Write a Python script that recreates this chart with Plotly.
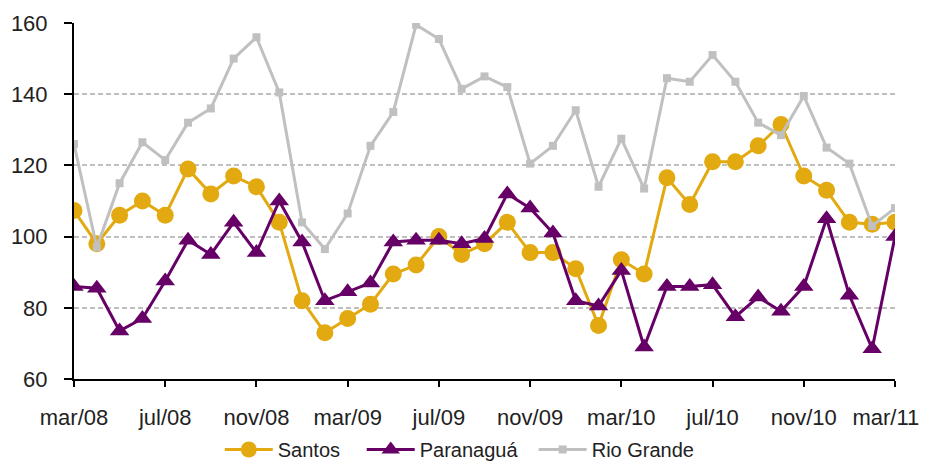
import plotly.graph_objects as go

months_pt = ["jan", "fev", "mar", "abr", "mai", "jun", "jul", "ago", "set", "out", "nov", "dez"]
meses = []
for i in range(37):
    m = (2 + i) % 12
    y = 8 + (2 + i) // 12
    meses.append(f"{months_pt[m]}/{y:02d}")

santos = [107.3, 98, 106, 110, 106, 119, 112, 117, 114, 104, 82, 73, 77, 81, 89.5,
          92, 100, 95, 98, 104, 95.5, 95.5, 91, 75, 93.5, 89.5, 116.5, 109, 121, 121,
          125.5, 131.5, 117, 113, 104, 103.5, 104]
paranagua = [86, 85.5, 73.5, 77, 87.5, 99, 95, 104, 95.5, 110, 98.5, 82, 84.5, 87, 98.5,
             99, 99, 98, 99.5, 112, 108, 101, 82, 80.5, 90.5, 69, 86, 86, 86.5, 77.5,
             83, 79, 86, 105, 83.5, 68.5, 100]
rio_grande = [126, 97, 115, 126.5, 121.5, 132, 136, 150, 156, 140.5, 104, 96.5, 106.5,
              125.5, 135, 159.5, 155.5, 141.5, 145, 142, 120.5, 125.5, 135.5, 114, 127.5,
              113.5, 144.5, 143.5, 151, 143.5, 132, 128.5, 139.5, 125, 120.5, 103, 108]

tick_vals = meses[::4]
tick_text = list(tick_vals)
tick_text[-1] = tick_text[-1] + "\u00a0\u00a0\u00a0"  # nudge last label left so it isn't clipped

# nbsp padding just widens the legend entries a bit
fig = go.Figure()
fig.add_trace(go.Scatter(x=meses, y=santos, name="Santos\u00a0\u00a0\u00a0", mode="lines+markers",
                         line=dict(color="#E2AA10", width=3),
                         marker=dict(symbol="circle", size=17, color="#E2AA10")))
fig.add_trace(go.Scatter(x=meses, y=paranagua, name="Paranaguá\u00a0\u00a0", mode="lines+markers",
                         line=dict(color="#660066", width=3),
                         marker=dict(symbol="triangle-up", size=17, color="#660066")))
fig.add_trace(go.Scatter(x=meses, y=rio_grande, name="Rio Grande", mode="lines+markers",
                         line=dict(color="#C0C0C0", width=3),
                         marker=dict(symbol="square", size=8, color="#C0C0C0")))

# page body has an 8px margin all round, so keep the figure inside the window
fig.update_layout(
    width=922,
    height=456,
    margin=dict(l=66, r=35, t=15, b=85, autoexpand=False),
    plot_bgcolor="white",
    paper_bgcolor="white",
    font=dict(family="Liberation Sans, Arial", size=22, color="#222222"),
    legend=dict(orientation="h", xref="container", x=0.49, xanchor="center",
                yref="paper", y=-0.198, yanchor="middle",
                font=dict(size=20), traceorder="normal", itemwidth=48),
)
fig.update_xaxes(
    type="category", categoryorder="array", categoryarray=meses,
    range=[0, 36], tickmode="array", tickvals=tick_vals, ticktext=tick_text,
    showline=True, linecolor="black", linewidth=2, mirror=False,
    ticks="outside", ticklen=6, tickwidth=1.5, tickcolor="black",
    showgrid=False, zeroline=False, ticklabelstandoff=12, automargin=False,
    ticklabeloverflow="allow",
)
fig.update_yaxes(
    range=[60, 160], tickvals=[60, 80, 100, 120, 140, 160],
    showline=True, linecolor="black", linewidth=2,
    ticks="outside", ticklen=8, tickwidth=1.5, tickcolor="black",
    showgrid=True, gridcolor="#BFBFBF", gridwidth=1.5, griddash="5px,3px",
    zeroline=False, ticklabelstandoff=12, automargin=False,
)

fig.write_html("out.html")
